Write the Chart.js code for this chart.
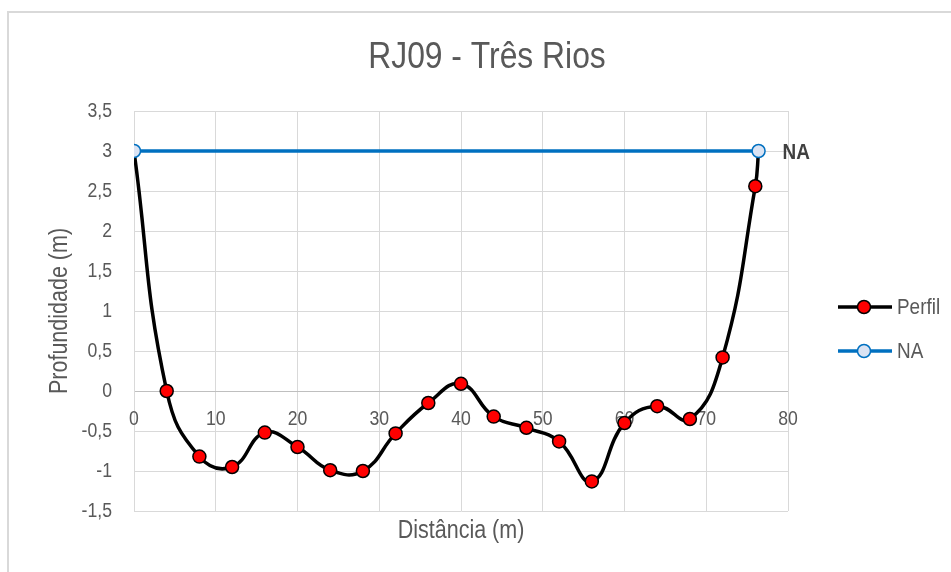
<!DOCTYPE html>
<html>
<head>
<meta charset="utf-8">
<script src="https://cdn.jsdelivr.net/npm/chart.js@4"></script>
<style>
  body { margin: 0; background: #ffffff; }
  #wrap { width: 951px; height: 572px; }
</style>
</head>
<body>
<div id="wrap"><canvas id="myChart" width="951" height="572"></canvas></div>
<script>
// data
const distancia = [0, 4, 8, 12, 16, 20, 24, 28, 32, 36, 40, 44, 48, 52, 56, 60, 64, 68, 72, 76, 76.4];
const profundidade = [3, 0, -0.82, -0.95, -0.52, -0.70, -0.99, -1.00, -0.53, -0.15, 0.09, -0.32, -0.46, -0.63, -1.13, -0.40, -0.19, -0.35, 0.42, 2.56, 3];
const naDistancia = [0, 76.4];
const naNivel = [3, 3];
const seriesNames = ['Perfil', 'NA'];

// tick labels
const xTickValues = [0, 10, 20, 30, 40, 50, 60, 70, 80];
const yTickValues = [-1.5, -1, -0.5, 0, 0.5, 1, 1.5, 2, 2.5, 3, 3.5];
const yTickLabels = ['-1,5', '-1', '-0,5', '0', '0,5', '1', '1,5', '2', '2,5', '3', '3,5'];

const chartTitle = 'RJ09 - Três Rios';
const xTitle = 'Distância (m)';
const yTitle = 'Profundidade (m)';

const FONT = '"Liberation Sans", Arial, sans-serif';
const GREY = '#595959';
const SQUEEZE = 0.86; // the original uses a narrow font

// join x and y arrays into points
function toPoints(xs, ys) {
    return xs.map((x, i) => ({ x: x, y: ys[i] }));
}

// draw narrow text (optionally rotated)
function narrowText(ctx, text, x, y, size, opts) {
    opts = opts || {};
    ctx.save();
    ctx.translate(x, y);
    if (opts.rotate) ctx.rotate(opts.rotate);
    ctx.scale(SQUEEZE, 1);
    ctx.font = (opts.bold ? 'bold ' : '') + size + 'px ' + FONT;
    ctx.fillStyle = opts.color || GREY;
    ctx.textAlign = opts.align || 'center';
    ctx.textBaseline = opts.baseline || 'middle';
    ctx.fillText(text, 0, 0);
    ctx.restore();
}

// hide perfil markers at both ends (they sit under the NA markers)
const perfilRadius = distancia.map((d, i) => (i === 0 || i === distancia.length - 1) ? 0 : 6.5);

// border, texts, legend and NA label
const extrasPlugin = {
    id: 'extras',
    beforeDraw(chart) {
        const ctx = chart.ctx;
        ctx.save();
        ctx.fillStyle = '#D9D9D9';
        ctx.fillRect(7, 11, chart.width - 7, 2);
        ctx.fillRect(7, 11, 2, chart.height - 11);
        ctx.restore();
    },
    // texts go under the lines, like in the original
    beforeDatasetsDraw(chart) {
        const ctx = chart.ctx;
        const xs = chart.scales.x;
        const ys = chart.scales.y;
        const area = chart.chartArea;

        narrowText(ctx, chartTitle, 487, 68, 37, { baseline: 'alphabetic' });

        // y tick labels
        yTickValues.forEach((v, i) => {
            narrowText(ctx, yTickLabels[i], area.left - 22, ys.getPixelForValue(v), 20.5, { align: 'right' });
        });
        // x tick labels sit just under the zero line
        const y0 = ys.getPixelForValue(0);
        xTickValues.forEach(v => {
            narrowText(ctx, String(v), xs.getPixelForValue(v), y0 + 28, 20.5);
        });

        // axis titles
        narrowText(ctx, xTitle, (area.left + area.right) / 2, 531, 25);
        narrowText(ctx, yTitle, 60, (area.top + area.bottom) / 2, 25, { rotate: -Math.PI / 2 });
    },
    afterDraw(chart) {
        const ctx = chart.ctx;
        // legend
        const items = [
            { label: seriesNames[0], line: '#000000', fill: '#FF0000', border: '#000000', y: 307 },
            { label: seriesNames[1], line: '#0070C0', fill: '#DAE3F3', border: '#0070C0', y: 351 }
        ];
        ctx.save();
        items.forEach(it => {
            ctx.strokeStyle = it.line;
            ctx.lineWidth = 3.5;
            ctx.beginPath();
            ctx.moveTo(838, it.y);
            ctx.lineTo(892, it.y);
            ctx.stroke();
            ctx.beginPath();
            ctx.arc(864, it.y, 6.5, 0, Math.PI * 2);
            ctx.fillStyle = it.fill;
            ctx.fill();
            ctx.lineWidth = 1.5;
            ctx.strokeStyle = it.border;
            ctx.stroke();
            narrowText(ctx, it.label, 897, it.y + 1, 22, { align: 'left' });
        });
        ctx.restore();

        // label at the end of the NA line
        const meta = chart.getDatasetMeta(1);
        const last = meta.data[meta.data.length - 1];
        narrowText(ctx, seriesNames[1], last.x + 24, last.y + 2, 22, { align: 'left', bold: true, color: '#404040' });
    }
};

const ctx = document.getElementById('myChart').getContext('2d');
new Chart(ctx, {
    type: 'line',
    data: {
        datasets: [
            {
                label: seriesNames[0],
                data: toPoints(distancia, profundidade),
                borderColor: '#000000',
                borderWidth: 3.5,
                tension: 0.45,
                pointRadius: perfilRadius,
                pointBackgroundColor: '#FF0000',
                pointBorderColor: '#000000',
                pointBorderWidth: 1.5,
                order: 1
            },
            {
                label: seriesNames[1],
                data: toPoints(naDistancia, naNivel),
                borderColor: '#0070C0',
                borderWidth: 3.5,
                pointRadius: 6.5,
                pointBackgroundColor: '#DAE3F3',
                pointBorderColor: '#0070C0',
                pointBorderWidth: 1.5,
                order: 0
            }
        ]
    },
    options: {
        responsive: false,
        animation: false,
        layout: { padding: { left: 134, right: 163, top: 111, bottom: 61 } },
        plugins: {
            legend: { display: false },
            tooltip: { enabled: false },
            title: { display: false }
        },
        scales: {
            x: {
                type: 'linear',
                min: 0,
                max: 80,
                ticks: { display: false, stepSize: 10 },
                grid: { color: '#D9D9D9', drawTicks: false },
                border: { display: false },
                afterFit(scale) { scale.height = 0; }
            },
            y: {
                type: 'linear',
                min: -1.5,
                max: 3.5,
                ticks: { display: false, stepSize: 0.5 },
                grid: {
                    drawTicks: false,
                    color: c => (c.tick && c.tick.value === 0) ? '#BFBFBF' : '#D9D9D9'
                },
                border: { color: '#D9D9D9' },
                afterFit(scale) { scale.width = 0; }
            }
        }
    },
    plugins: [extrasPlugin]
});
</script>
</body>
</html>
